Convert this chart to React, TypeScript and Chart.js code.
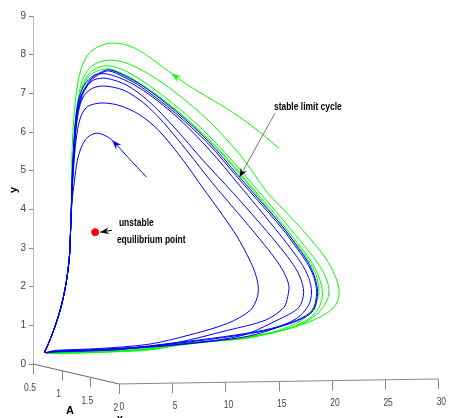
import React, { useEffect, useRef } from "react";
import { Chart, registerables } from "chart.js";

Chart.register(...registerables);

type P = [number, number];

// tick labels
const yTicks = [0, 1, 2, 3, 4, 5, 6, 7, 8, 9];
const xTicks = [0, 5, 10, 15, 20, 25, 30];
const aTicks = [0.5, 1, 1.5, 2];

// shared descending left branch (x, y)
const leftDown: P[] = [[3.53, 3.46], [3.43, 2.81], [3.15, 2.16], [2.78, 1.64], [2.32, 1.18], [1.76, 0.74], [1.3, 0.43], [1.11, 0.3]];

// blue trajectory (starting inside the cycle)
const blueTail: P[] = [[10.67, 4.83], [9.0, 5.32], [7.42, 5.79], [6.68, 5.92], [5.94, 5.97], [5.1, 5.86], [4.55, 5.61], [4.17, 5.27], [3.9, 4.75], [3.62, 4.1]];
const blueLoop0: P[] = [[2.04, 0.35], [6.22, 0.4], [10.85, 0.51], [14.56, 0.74], [18.27, 1.05], [20.41, 1.39], [21.06, 1.72], [21.15, 2.03], [20.78, 2.42], [20.13, 2.81], [19.2, 3.28], [17.81, 3.85], [15.96, 4.55], [14.1, 5.27], [11.78, 6.05], [9.93, 6.46], [8.07, 6.69], [6.4, 6.75], [5.19, 6.67], [4.64, 6.49], [4.27, 6.18], [3.99, 5.66], [3.8, 5.01], [3.62, 4.24]];
const blueLoop1: P[] = [[2.04, 0.33], [6.22, 0.38], [10.85, 0.46], [13.64, 0.56], [18.27, 0.87], [21.8, 1.13], [23.56, 1.46], [23.93, 1.75], [24.03, 2.03], [23.56, 2.37], [22.73, 2.73], [21.24, 3.25], [19.2, 3.92], [16.88, 4.67], [14.56, 5.48], [12.24, 6.25], [10.39, 6.75], [8.53, 7.08], [6.68, 7.19], [5.57, 7.13], [4.82, 6.95], [4.36, 6.64], [4.08, 6.18], [3.9, 5.53], [3.71, 4.75], [3.62, 4.1]];
const blueLoop2: P[] = [[2.04, 0.33], [6.22, 0.37], [10.85, 0.45], [15.49, 0.56], [19.67, 0.74], [22.91, 1.13], [24.96, 1.46], [25.42, 1.85], [25.05, 2.27], [24.21, 2.66], [22.91, 3.12], [21.06, 3.72], [18.74, 4.44], [15.96, 5.27], [13.17, 6.15], [10.85, 6.8], [8.81, 7.21], [6.86, 7.39], [5.66, 7.34], [4.92, 7.13], [4.36, 6.83], [4.08, 6.31], [3.9, 5.66], [3.71, 4.88], [3.62, 4.1]];
const blueLoop3: P[] = [[2.04, 0.32], [6.22, 0.36], [10.85, 0.43], [15.49, 0.55], [19.67, 0.69], [22.17, 0.87], [24.77, 1.18], [25.88, 1.52], [26.16, 1.86], [25.88, 2.24], [25.14, 2.63], [23.84, 3.12], [21.8, 3.82], [19.39, 4.62], [16.6, 5.53], [13.64, 6.36], [10.85, 6.98], [8.81, 7.32], [6.96, 7.5], [5.75, 7.47], [4.82, 7.21], [4.27, 6.83], [3.99, 6.31], [3.8, 5.53], [3.71, 4.75], [3.62, 3.98]];
const blueLimit1: P[] = [[2.04, 0.32], [4.36, 0.34], [8.07, 0.38], [13.64, 0.56], [16.7, 0.66], [21.6, 0.87], [24.77, 1.13], [26.25, 1.39], [26.62, 1.75], [26.62, 1.95], [26.35, 2.27], [25.7, 2.63], [24.58, 3.07], [23.38, 3.51], [21.52, 4.1], [19.2, 4.83], [16.42, 5.71], [13.36, 6.49], [10.2, 7.16], [8.53, 7.42], [7.14, 7.58], [6.4, 7.52], [5.47, 7.34], [4.64, 6.95], [4.17, 6.44], [3.9, 5.79], [3.71, 5.01], [3.62, 4.24]];
const blueLimit2: P[] = [[2.04, 0.31], [4.36, 0.33], [8.07, 0.37], [13.64, 0.54], [16.7, 0.64], [21.6, 0.85], [24.86, 1.12], [26.33, 1.38], [26.7, 1.75], [26.7, 1.96], [26.42, 2.29], [25.78, 2.66], [24.66, 3.1], [23.46, 3.55], [21.6, 4.14], [19.28, 4.87], [16.5, 5.75], [13.44, 6.53], [10.28, 7.2], [8.6, 7.46], [7.18, 7.61], [6.4, 7.55], [5.45, 7.37], [4.6, 6.98], [4.14, 6.46], [3.88, 5.8], [3.7, 5.0], [3.62, 4.2]];

// green trajectory (starting outside the cycle)
const greenTail: P[] = [[23.1, 5.58], [21.06, 6.05], [18.74, 6.51], [16.42, 6.9], [14.56, 7.21], [12.99, 7.52], [11.32, 7.86], [10.2, 8.07], [8.81, 8.25], [7.42, 8.3], [6.22, 8.22], [5.29, 8.04], [4.64, 7.73], [4.17, 7.21], [3.9, 6.57], [3.71, 5.79], [3.62, 4.88], [3.62, 4.1]];
const greenLoop0: P[] = [[2.04, 0.27], [6.22, 0.3], [10.85, 0.36], [13.64, 0.48], [19.85, 0.69], [24.49, 0.95], [27.27, 1.26], [28.48, 1.55], [28.76, 1.88], [28.45, 2.22], [27.75, 2.62], [26.7, 3.02], [25.2, 3.5], [23.5, 4.0], [21.99, 4.44], [19.48, 5.4], [16.42, 6.31], [13.36, 7.03], [10.85, 7.5], [8.81, 7.78], [7.33, 7.86], [6.22, 7.81], [5.29, 7.65], [4.64, 7.34], [4.27, 6.9], [3.99, 6.31], [3.8, 5.53], [3.71, 4.75], [3.62, 4.1]];
const greenLoop1: P[] = [[2.04, 0.28], [6.22, 0.31], [10.85, 0.37], [13.64, 0.5], [19.67, 0.67], [23.65, 0.88], [25.88, 1.13], [27.18, 1.44], [27.74, 1.75], [27.74, 2.03], [27.27, 2.37], [26.35, 2.76], [25.05, 3.2], [23.19, 3.82], [20.87, 4.57], [18.09, 5.45], [15.21, 6.25], [12.24, 6.93], [9.74, 7.42], [8.26, 7.63], [7.24, 7.71], [6.22, 7.68], [5.29, 7.52], [4.64, 7.19], [4.27, 6.77], [3.99, 6.18], [3.8, 5.4], [3.71, 4.62], [3.62, 4.1]];
const greenLoop2: P[] = [[2.04, 0.29], [6.22, 0.32], [10.85, 0.39], [13.64, 0.52], [19.67, 0.66], [23.56, 0.88], [25.7, 1.13], [26.81, 1.44], [27.18, 1.75], [27.09, 2.03], [26.62, 2.4], [25.79, 2.79], [24.49, 3.25], [22.63, 3.9], [20.32, 4.65], [17.53, 5.53], [14.56, 6.31], [11.78, 6.93], [9.37, 7.37], [8.07, 7.55], [7.14, 7.63], [6.22, 7.6], [5.29, 7.45], [4.64, 7.13], [4.27, 6.75], [3.99, 6.18], [3.8, 5.4], [3.71, 4.62], [3.62, 4.1]];
const greenLoop3: P[] = [[2.04, 0.3], [6.22, 0.33], [10.85, 0.4], [13.64, 0.53], [19.67, 0.65], [22.73, 0.84], [25.23, 1.13], [26.35, 1.46], [26.81, 1.77], [26.81, 2.06], [26.44, 2.4], [25.61, 2.79], [24.3, 3.25], [22.36, 3.92], [20.04, 4.7], [17.16, 5.61], [14.1, 6.41], [11.04, 7.06], [9.0, 7.39], [7.79, 7.55], [7.14, 7.6]];

// direction arrows on the trajectories: [from, to]
const blueArrow: P[] = [[9.0, 5.32], [7.42, 5.79]];
const greenArrow: P[] = [[14.56, 7.21], [12.99, 7.52]];

// equilibrium point
const equilibrium: P = [5.84, 3.41];

// annotations
const limitLabel = { text: "stable limit cycle", at: [22.63, 6.64] as P, from: [22.73, 6.49] as P, to: [19.39, 4.83] as P };
const eqLabel = { lines: ["unstable", "equilibrium point"], at: [[8.07, 3.64], [7.88, 3.22]] as P[], from: [7.42, 3.46] as P, to: [6.31, 3.41] as P };

// 3D projection of the depth (A) axis, in data units per unit of A
const aShiftX = 5.38;
const aShiftY = -0.344;
const xTiltY = 0.0043;

const FONT = '"Liberation Sans", Arial, sans-serif';
const NARROW = 0.77;

const toPts = (arr: P[]) => arr.map(([x, y]) => ({ x, y }));

function narrowText(ctx: CanvasRenderingContext2D, t: string, x: number, y: number, sx: number) {
  ctx.save();
  ctx.translate(x, y);
  ctx.scale(sx, 1);
  ctx.fillText(t, 0, 0);
  ctx.restore();
}

function arrowHead(ctx: CanvasRenderingContext2D, tx: number, ty: number, ang: number, len: number, w: number, color: string) {
  ctx.save();
  ctx.translate(tx, ty);
  ctx.rotate(ang);
  ctx.fillStyle = color;
  ctx.beginPath();
  ctx.moveTo(0, 0);
  ctx.lineTo(-len, -w / 2);
  ctx.lineTo(-len * 0.65, 0);
  ctx.lineTo(-len, w / 2);
  ctx.closePath();
  ctx.fill();
  ctx.restore();
}

const extras = {
  id: "extras",
  afterDraw(chart: any) {
    const ctx: CanvasRenderingContext2D = chart.ctx;
    const xs = chart.scales.x;
    const ys = chart.scales.y;
    const px = (x: number, y: number): P => [xs.getPixelForValue(x), ys.getPixelForValue(y)];
    const p3 = (x: number, y: number, a: number): P => px(x + aShiftX * (a - 0.5), y + aShiftY * (a - 0.5) + xTiltY * x);
    ctx.save();
    // A axis
    const a0 = p3(0, 0, aTicks[0]);
    const a1 = p3(0, 0, aTicks[aTicks.length - 1]);
    ctx.strokeStyle = "#666";
    ctx.lineWidth = 1;
    ctx.beginPath();
    ctx.moveTo(a0[0], a0[1]);
    ctx.lineTo(a1[0], a1[1]);
    ctx.stroke();
    // x axis
    const x1 = p3(xTicks[xTicks.length - 1], 0, 2);
    ctx.strokeStyle = "#888";
    ctx.beginPath();
    ctx.moveTo(a1[0], a1[1]);
    ctx.lineTo(x1[0], x1[1]);
    ctx.stroke();
    ctx.font = `10px ${FONT}`;
    ctx.fillStyle = "#444";
    ctx.textAlign = "center";
    ctx.textBaseline = "middle";
    ctx.strokeStyle = "#888";
    aTicks.forEach((a) => {
      const [tx, ty] = p3(0, 0, a);
      ctx.beginPath();
      ctx.moveTo(Math.round(tx) + 0.5, ty);
      ctx.lineTo(Math.round(tx) + 0.5, ty + 10);
      ctx.stroke();
      narrowText(ctx, String(a), tx - 3, ty + 24, 0.85);
    });
    xTicks.forEach((v) => {
      const [tx, ty] = p3(v, 0, 2);
      ctx.beginPath();
      ctx.moveTo(Math.round(tx) + 0.5, ty);
      ctx.lineTo(Math.round(tx) + 0.5, ty + 10);
      ctx.stroke();
      narrowText(ctx, String(v), tx + 3, ty + 23, 0.85);
    });
    // axis titles
    ctx.fillStyle = "#000";
    ctx.font = `bold 11px ${FONT}`;
    const aMid = p3(0, 0, 1.25);
    ctx.fillText("A", aMid[0] - 6, aMid[1] + 37);
    const xMid = p3(0, 0, 2);
    ctx.textBaseline = "top";
    ctx.fillText("x", xMid[0] + 1, xMid[1] + 30);
    ctx.textBaseline = "middle";

    // trajectory arrows
    const drawTrajArrow = (pair: P[], color: string) => {
      const [fx, fy] = px(pair[0][0], pair[0][1]);
      const [tx, ty] = px(pair[1][0], pair[1][1]);
      arrowHead(ctx, tx, ty, Math.atan2(ty - fy, tx - fx), 10, 7, color);
    };
    drawTrajArrow(blueArrow, "#0000ff");
    drawTrajArrow(greenArrow, "#00ff00");

    // annotation: stable limit cycle
    ctx.font = `bold 11px ${FONT}`;
    ctx.fillStyle = "#000";
    ctx.textAlign = "left";
    const lp = px(limitLabel.at[0], limitLabel.at[1]);
    narrowText(ctx, limitLabel.text, lp[0], lp[1], NARROW);
    const lf = px(limitLabel.from[0], limitLabel.from[1]);
    const lt = px(limitLabel.to[0], limitLabel.to[1]);
    ctx.strokeStyle = "#777";
    ctx.beginPath();
    ctx.moveTo(lf[0], lf[1]);
    ctx.lineTo(lt[0], lt[1]);
    ctx.stroke();
    arrowHead(ctx, lt[0], lt[1], Math.atan2(lt[1] - lf[1], lt[0] - lf[0]), 9, 7, "#000");

    // annotation: equilibrium
    eqLabel.lines.forEach((t, i) => {
      const q = px(eqLabel.at[i][0], eqLabel.at[i][1]);
      narrowText(ctx, t, q[0], q[1], NARROW);
    });
    const ef = px(eqLabel.from[0], eqLabel.from[1]);
    const et = px(eqLabel.to[0], eqLabel.to[1]);
    ctx.strokeStyle = "#000";
    ctx.beginPath();
    ctx.moveTo(ef[0], ef[1]);
    ctx.lineTo(et[0], et[1]);
    ctx.stroke();
    arrowHead(ctx, et[0], et[1], Math.atan2(et[1] - ef[1], et[0] - ef[0]), 9, 7, "#000");
    ctx.restore();
  },
};

export default function App() {
  const ref = useRef<HTMLCanvasElement>(null);
  useEffect(() => {
    if (!ref.current) return;
    const blue = [...blueTail, ...leftDown, ...blueLoop0, ...leftDown, ...blueLoop1, ...leftDown, ...blueLoop2, ...leftDown, ...blueLoop3, ...leftDown, ...blueLimit1, ...leftDown, ...blueLimit2, ...leftDown, blueLimit1[0]];
    const green = [...greenTail, ...leftDown, ...greenLoop0, ...leftDown, ...greenLoop1, ...leftDown, ...greenLoop2, ...leftDown, ...greenLoop3];
    const line = { showLine: true, pointRadius: 0, borderWidth: 1, tension: 0.3, fill: false };
    const chart = new Chart(ref.current, {
      type: "scatter",
      data: {
        datasets: [
          { data: [{ x: equilibrium[0], y: equilibrium[1] }], pointRadius: 3.5, backgroundColor: "#ff0000", borderColor: "#ff0000", pointStyle: "circle" } as any,
          { ...line, data: toPts(blue), borderColor: "#0000ff" },
          { ...line, data: toPts(green), borderColor: "#00ff00" },
        ],
      },
      options: {
        animation: false,
        responsive: false,
        layout: { padding: { left: 0, right: 0, top: 16, bottom: 54 } },
        plugins: { legend: { display: false }, tooltip: { enabled: false } },
        scales: {
          x: { type: "linear", min: 0, max: 38.6, display: false },
          y: {
            type: "linear",
            min: 0,
            max: 9,
            position: "left",
            afterFit: (s: any) => {
              s.width = 33;
            },
            afterBuildTicks: (s: any) => {
              s.ticks = yTicks.map((v) => ({ value: v }));
            },
            ticks: { color: "#444", font: { family: FONT, size: 10 }, padding: 3 },
            grid: { drawOnChartArea: false, drawTicks: true, tickLength: 4, color: "#888" },
            border: { color: "#bbb" },
            title: { display: true, text: "y", color: "#000", font: { family: FONT, size: 11, weight: "bold" }, padding: { top: 7, bottom: 0 } },
          },
        },
      },
      plugins: [extras],
    });
    return () => chart.destroy();
  }, []);
  return (
    <div style={{ position: "absolute", left: 0, top: 0, width: 449, height: 418, background: "#fff" }}>
      <canvas ref={ref} width={449} height={418} style={{ display: "block" }} />
    </div>
  );
}
